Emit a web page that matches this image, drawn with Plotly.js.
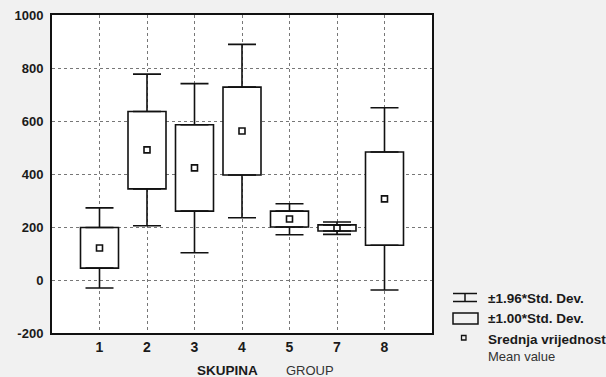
<!DOCTYPE html>
<html>
<head>
<meta charset="utf-8">
<script src="https://cdn.plot.ly/plotly-3.0.1.min.js"></script>
<style>
html,body{margin:0;padding:0;background:#f1f1f1;}
#chart{width:606px;height:377px;}
</style>
</head>
<body>
<div id="chart"></div>
<script>
// Data
const groups = ['1', '2', '3', '4', '5', '7', '8'];
const meanValue = [121, 491, 423, 562, 230, 196, 306];
const sdHigh   = [198, 636, 586, 728, 260, 208, 483];   // mean + 1.00*SD
const sdLow    = [45, 344, 260, 396, 200, 185, 131];    // mean - 1.00*SD
const whiskHigh = [272, 777, 741, 889, 288, 219, 650];  // mean + 1.96*SD
const whiskLow  = [-30, 205, 103, 235, 171, 172, -38];  // mean - 1.96*SD
const yTicks = [-200, 0, 200, 400, 600, 800, 1000];

const W = 606, H = 377;
const M = {l: 52, r: 174, t: 15, b: 44};
const pw = W - M.l - M.r, ph = H - M.t - M.b;
const px = x => (x - M.l) / pw;
const py = y => 1 - (y - M.t) / ph;

const fontTick = {family: 'Liberation Sans, Arial, sans-serif', size: 13, color: '#1a1a1a', weight: 'bold'};
const fontXTick = {family: 'Liberation Sans, Arial, sans-serif', size: 14, color: '#1a1a1a', weight: 'bold'};

const boxTrace = {
  type: 'bar', x: groups,
  base: sdLow,
  y: sdHigh.map((v, i) => v - sdLow[i]),
  width: 0.8,
  marker: {color: '#ffffff', line: {color: '#111', width: 1.6}},
  hoverinfo: 'skip', showlegend: false
};
const upperWhisker = {
  type: 'scatter', mode: 'markers', x: groups, y: sdHigh,
  marker: {size: 1, opacity: 0},
  error_y: {type: 'data', symmetric: false,
    array: whiskHigh.map((v, i) => v - sdHigh[i]),
    arrayminus: groups.map(() => 0),
    color: '#111', thickness: 1.6, width: 14},
  hoverinfo: 'skip', showlegend: false
};
const lowerWhisker = {
  type: 'scatter', mode: 'markers', x: groups, y: sdLow,
  marker: {size: 1, opacity: 0},
  error_y: {type: 'data', symmetric: false,
    array: groups.map(() => 0),
    arrayminus: sdLow.map((v, i) => v - whiskLow[i]),
    color: '#111', thickness: 1.6, width: 14},
  hoverinfo: 'skip', showlegend: false
};
const meanTrace = {
  type: 'scatter', mode: 'markers', x: groups, y: meanValue,
  marker: {symbol: 'square-open', size: 6, color: '#111', line: {width: 1.6, color: '#111'}},
  hoverinfo: 'skip', showlegend: false
};

const annFont = {family: 'Liberation Sans, Arial, sans-serif', size: 13.5, color: '#1a1a1a'};
const annotations = [
  {xref: 'paper', yref: 'paper', x: px(195), y: py(370), xanchor: 'left', yanchor: 'middle',
   text: '<b>SKUPINA</b>', showarrow: false, font: {...annFont, size: 13.5}},
  {xref: 'paper', yref: 'paper', x: px(284), y: py(370), xanchor: 'left', yanchor: 'middle',
   text: 'GROUP', showarrow: false, font: {...annFont, size: 13, color: '#333'}},
  {xref: 'paper', yref: 'paper', x: px(486), y: py(298), xanchor: 'left', yanchor: 'middle',
   text: '<b>±1.96*Std. Dev.</b>', showarrow: false, font: annFont},
  {xref: 'paper', yref: 'paper', x: px(486), y: py(318), xanchor: 'left', yanchor: 'middle',
   text: '<b>±1.00*Std. Dev.</b>', showarrow: false, font: annFont},
  {xref: 'paper', yref: 'paper', x: px(486), y: py(339), xanchor: 'left', yanchor: 'middle',
   text: '<b>Srednja vrijednost</b>', showarrow: false, font: annFont},
  {xref: 'paper', yref: 'paper', x: px(486), y: py(356), xanchor: 'left', yanchor: 'middle',
   text: 'Mean value', showarrow: false, font: {...annFont, size: 13, color: '#333'}}
];

const ln = {color: '#111', width: 1.5};
const shapes = [
  // legend glyph: whisker
  {type: 'line', xref: 'paper', yref: 'paper', x0: px(453), x1: px(477), y0: py(293.5), y1: py(293.5), line: ln},
  {type: 'line', xref: 'paper', yref: 'paper', x0: px(453), x1: px(477), y0: py(301.5), y1: py(301.5), line: ln},
  {type: 'line', xref: 'paper', yref: 'paper', x0: px(465), x1: px(465), y0: py(293.5), y1: py(301.5), line: ln},
  // legend glyph: box
  {type: 'rect', xref: 'paper', yref: 'paper', x0: px(453), x1: px(478), y0: py(313), y1: py(324), line: ln, fillcolor: 'rgba(0,0,0,0)'},
  // legend glyph: mean
  {type: 'rect', xref: 'paper', yref: 'paper', x0: px(461.5), x1: px(466), y0: py(335.5), y1: py(340), line: {color: '#111', width: 1.3}, fillcolor: 'rgba(0,0,0,0)'}
];

const layout = {
  width: W, height: H,
  margin: M,
  paper_bgcolor: '#f1f1f1',
  plot_bgcolor: '#ffffff',
  showlegend: false,
  xaxis: {
    type: 'category', range: [-1, groups.length],
    showgrid: true, gridcolor: '#777', griddash: 'dot', gridwidth: 1,
    showline: true, linecolor: '#111', linewidth: 2, mirror: true,
    ticks: '', tickfont: fontXTick, ticklabelstandoff: 0,
    zeroline: false, fixedrange: true
  },
  yaxis: {
    range: [-200, 1000], tickvals: yTicks, ticktext: yTicks.map(String),
    showgrid: true, gridcolor: '#777', griddash: 'dot', gridwidth: 1,
    showline: true, linecolor: '#111', linewidth: 2, mirror: true,
    ticks: '', tickfont: fontTick, ticklabelstandoff: 4,
    zeroline: false, fixedrange: true
  },
  annotations: annotations,
  shapes: shapes
};

Plotly.newPlot('chart', [boxTrace, upperWhisker, lowerWhisker, meanTrace], layout, {staticPlot: true, displayModeBar: false});
</script>
</body>
</html>
